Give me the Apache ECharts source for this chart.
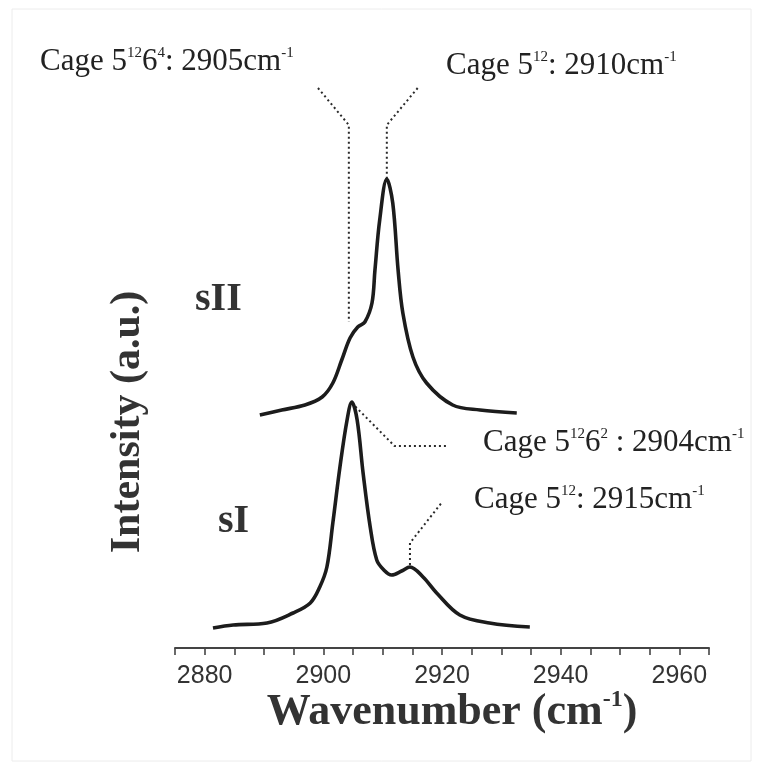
<!DOCTYPE html>
<html>
<head>
<meta charset="utf-8">
<script src="https://cdn.jsdelivr.net/npm/echarts@6/dist/echarts.min.js"></script>
<style>html,body{margin:0;padding:0;background:#fff;}#c{width:763px;height:767px;}</style>
</head>
<body>
<div id="c"></div>
<script>
// ---- data ----
const sI_wavenumber  = [2881.4, 2884.8, 2890.5, 2894.9, 2897.8, 2899.4, 2900.6, 2901.6, 2902.8, 2904.0, 2904.8, 2905.7, 2906.7, 2907.9, 2909.0, 2910.2, 2911.5, 2913.2, 2914.6, 2916.8, 2919.1, 2923.0, 2928.0, 2934.8];
const sI_intensity   = [4.0, 4.6, 5.0, 7.0, 9.0, 12.2, 16.2, 25.0, 36.2, 45.6, 49.2, 45.6, 35.0, 24.2, 17.6, 15.6, 14.6, 15.4, 16.2, 14.2, 11.0, 6.6, 5.0, 4.2];
const sII_wavenumber = [2889.3, 2893.0, 2896.9, 2899.8, 2901.6, 2903.1, 2904.5, 2905.8, 2907.0, 2908.2, 2908.7, 2909.5, 2910.7, 2911.7, 2912.6, 2913.4, 2915.1, 2917.4, 2921.8, 2926.4, 2932.6];
const sII_intensity  = [46.6, 47.6, 48.6, 50.2, 53.0, 57.6, 62.0, 64.2, 65.2, 69.0, 75.6, 85.6, 93.8, 89.0, 75.6, 67.0, 58.2, 53.0, 48.6, 47.6, 47.0];
const xTickLabels = [2880, 2900, 2920, 2940, 2960];
// leader lines (data coordinates)
const leader2905 = [[2899.1, 112.0], [2904.3, 104.6], [2904.3, 65.2]];
const leader2910 = [[2915.9, 112.0], [2910.7, 104.6], [2910.7, 93.6]];
const leader2904 = [[2904.8, 49.0], [2912.0, 40.4], [2920.8, 40.4]];
const leader2915 = [[2914.6, 16.6], [2914.6, 21.0], [2919.9, 29.0]];

const zip = (a, b) => a.map((v, i) => [v, b[i]]);
const serif = '"Liberation Serif", "DejaVu Serif", serif';
const txt = '#222';
const cageRich = {
  n: { fontSize: 31, fontFamily: serif, fill: txt, color: txt, lineHeight: 36 },
  s: { fontSize: 15, fontFamily: serif, fill: txt, color: txt, verticalAlign: 'top', lineHeight: 36, padding: [2, 0, 0, 0] }
};
const leader = (d) => ({
  type: 'line', data: d, symbol: 'none', silent: true, clip: false,
  lineStyle: { color: '#2a2a2a', width: 2, type: [2, 3] }, z: 1
});

const chart = echarts.init(document.getElementById('c'), null, { renderer: 'canvas' });
chart.setOption({
  backgroundColor: '#fff',
  animation: false,
  grid: { left: 175, right: 54, top: 48, bottom: 119 },
  xAxis: {
    type: 'value', min: 2875, max: 2965, interval: 5,
    axisLine: { show: true, lineStyle: { color: '#444', width: 2 } },
    axisTick: { show: true, length: 7, lineStyle: { color: '#444', width: 1.6 } },
    axisLabel: {
      margin: 16, fontSize: 25, color: '#333', fontFamily: '"Liberation Sans", Arial, sans-serif',
      formatter: (v) => (xTickLabels.indexOf(v) >= 0 ? String(v) : '')
    },
    splitLine: { show: false }
  },
  yAxis: {
    type: 'value', min: 0, max: 120,
    axisLine: { show: false }, axisTick: { show: false }, axisLabel: { show: false }, splitLine: { show: false }
  },
  series: [
    { type: 'line', name: 'sII', data: zip(sII_wavenumber, sII_intensity), smooth: 0.35, symbol: 'none',
      lineStyle: { color: '#1c1c1c', width: 3.6 }, z: 3 },
    { type: 'line', name: 'sI', data: zip(sI_wavenumber, sI_intensity), smooth: 0.35, symbol: 'none',
      lineStyle: { color: '#1c1c1c', width: 3.6 }, z: 3 },
    leader(leader2905), leader(leader2910), leader(leader2904), leader(leader2915)
  ],
  graphic: [
    { type: 'rect', shape: { x: 12, y: 9, width: 739, height: 752 }, style: { fill: 'none', stroke: '#ececec', lineWidth: 1 }, silent: true },
    { type: 'text', x: 40, y: 62, style: { text: '{n|Cage 5}{s|12}{n|6}{s|4}{n|: 2905cm}{s|-1}', rich: cageRich, verticalAlign: 'middle', align: 'left' } },
    { type: 'text', x: 446, y: 66, style: { text: '{n|Cage 5}{s|12}{n|: 2910cm}{s|-1}', rich: cageRich, verticalAlign: 'middle', align: 'left' } },
    { type: 'text', x: 483, y: 443, style: { text: '{n|Cage 5}{s|12}{n|6}{s|2}{n| : 2904cm}{s|-1}', rich: cageRich, verticalAlign: 'middle', align: 'left' } },
    { type: 'text', x: 474, y: 500, style: { text: '{n|Cage 5}{s|12}{n|: 2915cm}{s|-1}', rich: cageRich, verticalAlign: 'middle', align: 'left' } },
    { type: 'text', x: 195, y: 300, style: { text: 'sII', font: 'bold 40px ' + serif, fill: '#333', verticalAlign: 'middle', align: 'left' } },
    { type: 'text', x: 218, y: 522, style: { text: 'sI', font: 'bold 40px ' + serif, fill: '#333', verticalAlign: 'middle', align: 'left' } },
    { type: 'text', x: 128, y: 422, rotation: Math.PI / 2,
      style: { text: 'Intensity (a.u.)', font: 'bold 42px ' + serif, fill: '#333', verticalAlign: 'middle', align: 'center' } },
    { type: 'text', x: 452, y: 713,
      style: { text: '{b|Wavenumber (cm}{s|-1}{b|)}', verticalAlign: 'middle', align: 'center',
        rich: {
          b: { font: 'bold 44px ' + serif, fill: '#333', color: '#333', lineHeight: 50 },
          s: { font: 'bold 24px ' + serif, fill: '#333', color: '#333', verticalAlign: 'top', lineHeight: 50 }
        } } }
  ]
});
</script>
</body>
</html>
